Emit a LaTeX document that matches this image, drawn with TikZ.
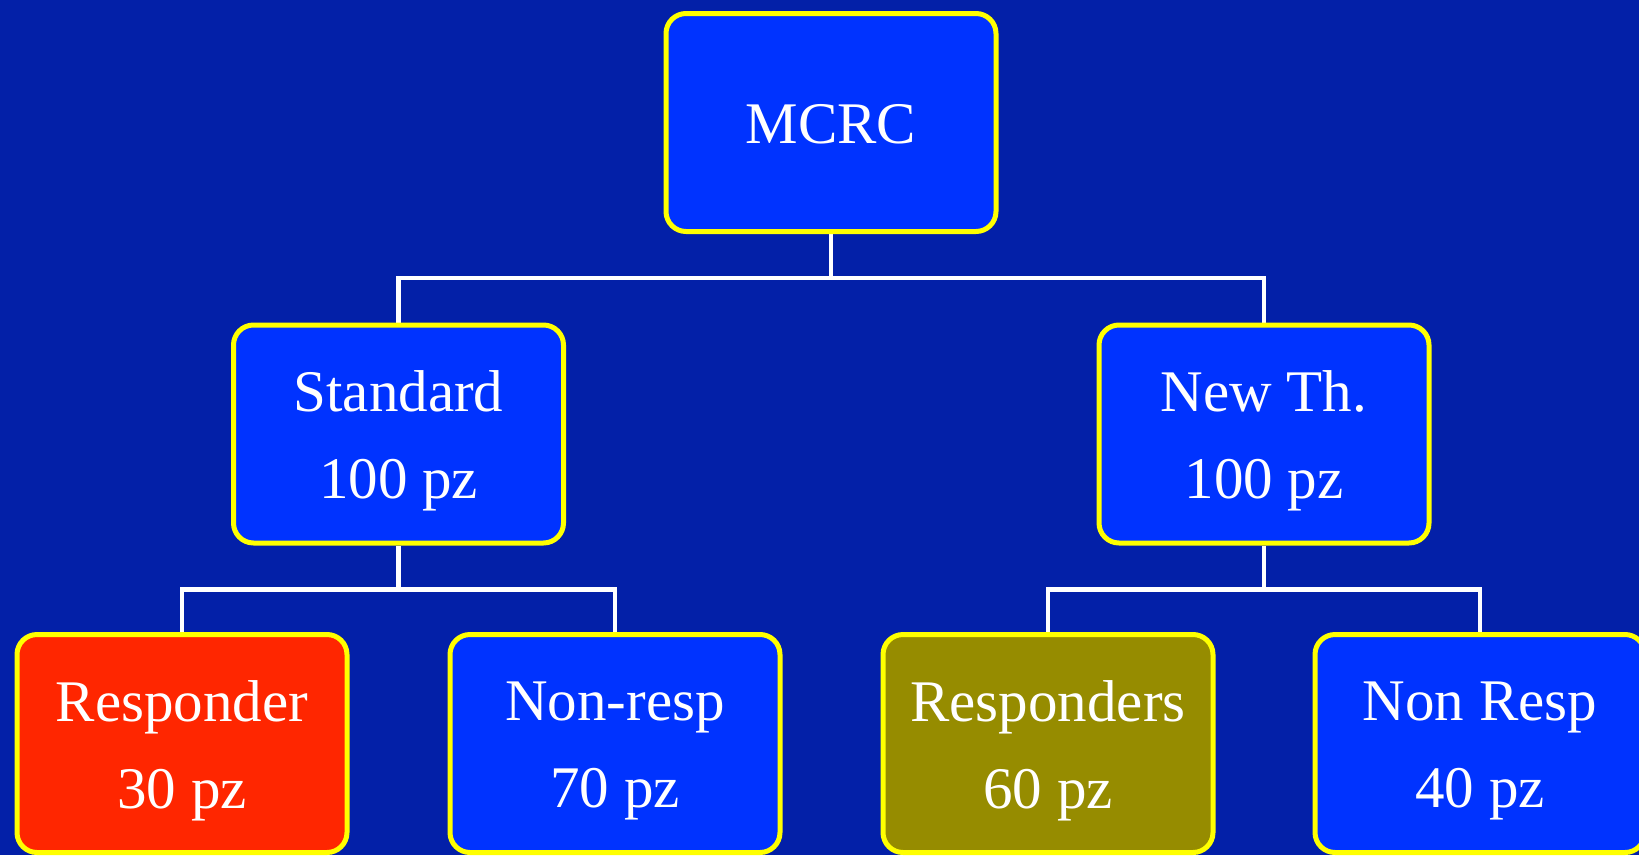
\documentclass[tikz,border=0pt]{standalone}
\usepackage{fontspec}
\setmainfont{Liberation Serif}
\pgfdeclarelayer{bg}
\pgfdeclarelayer{lines}
\pgfsetlayers{bg,lines,main}
\definecolor{bgblue}{RGB}{3,32,168}
\definecolor{boxblue}{RGB}{0,51,255}
\definecolor{boxred}{RGB}{255,38,0}
\definecolor{boxolive}{RGB}{150,140,0}
\definecolor{edgeyellow}{RGB}{255,255,0}
\tikzset{
  box/.style={draw=edgeyellow, line width=5pt, fill=boxblue, rounded corners=20pt,
    minimum width=330pt, minimum height=218pt, inner sep=0pt},
  txt/.style={text=white, align=center, inner sep=0pt,
    font=\fontsize{59}{87}\selectfont},
  conn/.style={draw=white, line width=4.5pt}
}
\begin{document}
\begin{tikzpicture}[x=1pt,y=-1pt]
\begin{pgfonlayer}{bg}
\fill[bgblue] (0,0) rectangle (1639,855);
\end{pgfonlayer}
\useasboundingbox (0,0) rectangle (1639,855);
\node[box] (mcrc) at (831,122.5) {};
\node[box] (std) at (398.5,434) {};
\node[box] (newth) at (1264,434) {};
\node[box, fill=boxred] (resp) at (182,743.5) {};
\node[box] (nonresp) at (615,743.5) {};
\node[box, fill=boxolive] (resps) at (1048,743.5) {};
\node[box] (nonresp2) at (1480,743.5) {};
\node[txt] (mcrct) at ([yshift=-2pt]mcrc.center) {MCRC};
\node[txt] (stdt) at ([yshift=-7pt]std.center) {Standard\\100 pz};
\node[txt] (newtht) at ([yshift=-7pt]newth.center) {New Th.\\100 pz};
\node[txt] (respt) at ([yshift=-7pt]resp.center) {Responder\\30 pz};
\node[txt] (nonrespt) at ([yshift=-7pt]nonresp.center) {Non-resp\\70 pz};
\node[txt] (respst) at ([yshift=-7pt]resps.center) {Responders\\60 pz};
\node[txt] (nonresp2t) at ([yshift=-7pt]nonresp2.center) {Non Resp\\40 pz};
\coordinate (j1) at (831,278);
\coordinate (j2) at (398.5,589.5);
\coordinate (j3) at (1264,589.5);
\begin{pgfonlayer}{lines}
\draw[conn] (mcrc.south) -- (j1);
\draw[conn] (std.north) |- (j1) -| (newth.north);
\draw[conn] (std.south) -- (j2);
\draw[conn] (resp.north) |- (j2) -| (nonresp.north);
\draw[conn] (newth.south) -- (j3);
\draw[conn] (resps.north) |- (j3) -| (nonresp2.north);
\end{pgfonlayer}
\end{tikzpicture}
\end{document}
